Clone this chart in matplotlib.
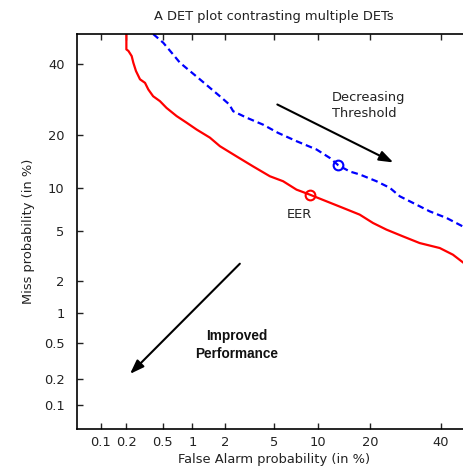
import numpy as np
import matplotlib
matplotlib.use("Agg")
import matplotlib.pyplot as plt
from statistics import NormalDist

# DET curves (values in %)
sys1_fa = [0.2, 0.2, 0.211, 0.230, 0.240, 0.257, 0.285, 0.324, 0.352, 0.397, 0.469, 0.550,
           0.698, 0.877, 1.097, 1.46, 1.80, 2.51, 3.44, 4.65, 5.83, 7.25, 8.92, 11.37,
           14.26, 17.63, 20.66, 24.0, 28.5, 33.4, 39.7, 44.0, 47.6, 50.0]
sys1_miss = [50.0, 44.9, 44.4, 42.7, 40.55, 37.9, 35.3, 34.2, 32.2, 30.2, 28.8, 26.9,
             24.7, 23.0, 21.3, 19.4, 17.5, 15.4, 13.5, 11.8, 11.0, 9.74, 9.04, 8.17,
             7.37, 6.62, 5.77, 5.16, 4.59, 4.08, 3.73, 3.30, 2.82, 2.6]
sys2_fa = [0.397, 0.508, 0.621, 0.753, 0.944, 1.177, 1.46, 1.80, 2.17, 2.35, 3.04, 4.13,
           5.36, 7.25, 9.85, 11.91, 13.4, 15.57, 17.63, 21.49, 24.9, 27.6, 31.4, 36.5,
           41.9, 47.6, 50.0]
sys2_miss = [50.0, 47.1, 43.8, 40.55, 37.9, 35.3, 32.7, 30.2, 27.9, 26.0, 24.3, 22.5,
             20.5, 18.6, 16.8, 15.1, 13.7, 12.6, 12.1, 11.0, 10.0, 8.82, 7.97, 6.98,
             6.27, 5.40, 5.15]
eer1 = (8.92, 9.04)
eer2 = (13.4, 13.7)

ticks = [0.1, 0.2, 0.5, 1, 2, 5, 10, 20, 40]
tick_labels = ["0.1", "0.2", "0.5", "1", "2", "5", "10", "20", "40"]

nd = NormalDist()
_ppf = np.vectorize(nd.inv_cdf, otypes=[float])
_cdf = np.vectorize(nd.cdf, otypes=[float])


def fwd(p):
    p = np.clip(np.asarray(p, dtype=float) / 100.0, 1e-9, 1 - 1e-9)
    return _ppf(p)


def inv(z):
    return _cdf(np.asarray(z, dtype=float)) * 100.0


plt.rcParams['font.family'] = ['DejaVu Sans']
txt = '#222222'
fs = 9.4

# the plotted area runs past the right edge of the picture (as in the reference)
unit = 394 / (fwd(50) - fwd(0.05))
width = unit * (fwd(80) - fwd(0.05))
cx = 197 / width  # centre of the 0.05..50 range, in axes fraction

fig = plt.figure(figsize=(4.64, 4.70), dpi=100)
ax = fig.add_axes([77 / 464, 41 / 470, width / 464, 395 / 470])
ax.set_xscale('function', functions=(fwd, inv))
ax.set_yscale('function', functions=(fwd, inv))
ax.set_xlim(0.05, 80)
ax.set_ylim(0.05, 50)

ax.plot(sys1_fa, sys1_miss, color='red', lw=1.6, solid_joinstyle='round')
ax.plot(sys2_fa, sys2_miss, color='blue', lw=1.6, ls=(0, (3.0, 1.8)))
ax.plot(*eer1, marker='o', ms=7, mfc='none', mec='red', mew=1.5)
ax.plot(*eer2, marker='o', ms=7, mfc='none', mec='blue', mew=1.5)

ax.set_xticks(ticks)
ax.set_xticklabels(tick_labels)
ax.set_yticks(ticks)
ax.set_yticklabels(tick_labels)
ax.minorticks_off()
ax.tick_params(direction='in', length=4, width=1, top=True, right=False,
               labelsize=fs, colors=txt)
ax.tick_params(axis='y', pad=9)
ax.tick_params(axis='x', pad=5)
for s in ax.spines.values():
    s.set_linewidth(1.2)
ax.spines['right'].set_visible(False)

ax.set_title("A DET plot contrasting multiple DETs", fontsize=fs, color=txt, pad=10, x=cx)
ax.set_xlabel("False Alarm probability (in %)", fontsize=fs, color=txt, labelpad=3)
ax.xaxis.label.set_x(cx)
ax.set_ylabel("Miss probability (in %)", fontsize=fs, color=txt, labelpad=6)

ax.text(7.6, 6.6, "EER", fontsize=fs, color=txt, ha='center', va='center')

ax.annotate("", xy=(26.5, 14.0), xytext=(5.07, 28.2),
            arrowprops=dict(arrowstyle='-|>,head_length=0.7,head_width=0.25',
                            color='black', lw=1.5, mutation_scale=12))
ax.text(12.25, 27.6, "Decreasing\nThreshold", fontsize=fs, color=txt,
        ha='left', va='center', linespacing=1.35)

ax.annotate("", xy=(0.209, 0.22), xytext=(2.78, 2.89),
            arrowprops=dict(arrowstyle='-|>,head_length=0.7,head_width=0.25',
                            color='black', lw=1.5, mutation_scale=12))
ax.text(2.53, 0.48, "Improved\nPerformance", fontsize=9.8, fontweight='bold',
        family=['Liberation Sans', 'DejaVu Sans'],
        color='#111111', ha='center', va='center', linespacing=1.3)

fig.savefig("out.png", dpi=100)
